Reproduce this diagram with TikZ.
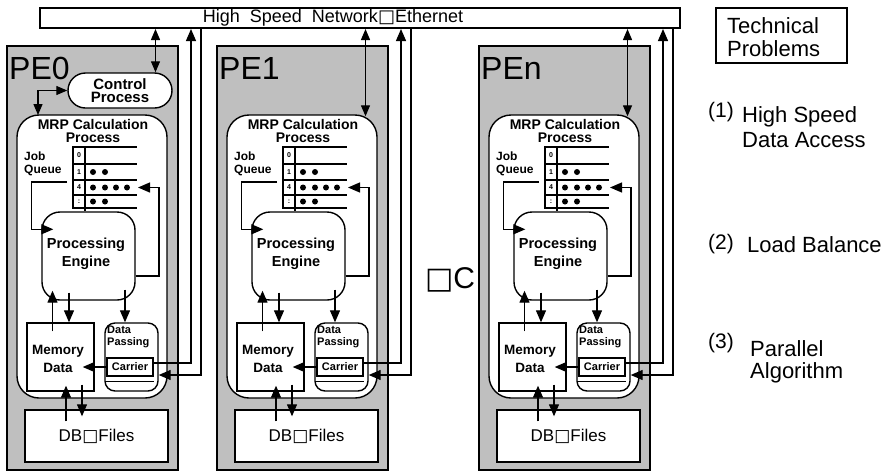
\documentclass[tikz,border=0pt]{standalone}
\usepackage{fontspec}
\setmainfont{Liberation Sans}
\newfontfamily\dejavu{DejaVu Sans}
\usetikzlibrary{arrows.meta,shapes.misc}
\newcommand{\sqg}{{\dejavu □}}
\newcommand{\fsz}[2]{\fontsize{#1}{#2}\selectfont}
\tikzset{
  pebox/.style={draw, line width=1.5pt, fill=black!25, inner sep=0pt},
  wbox/.style={draw, line width=1.4pt, fill=white, inner sep=0pt},
  txt/.style={inner sep=0pt, align=center},
  tip/.style={-{Triangle[length=12pt,width=10pt]}, line width=1.3pt},
  dtip/.style={{Triangle[length=11pt,width=9pt]}-{Triangle[length=11pt,width=9pt]}, line width=1.3pt},
  ln/.style={line width=1.3pt},
}
\begin{document}
\begin{tikzpicture}[x=1pt,y=-1pt]
\useasboundingbox (0,0) rectangle (893,472);
% network bar
\node[wbox, minimum width=640pt, minimum height=20pt] (net) at (360,18) {};
\node[txt, font=\fsz{18}{20}] (nettxt) at (333,18) {High\ \ Speed\ \ Network\sqg Ethernet};
\foreach \i/\dx in {0/0,1/210,n/472}{
\begin{scope}[xshift=\dx pt]
 \node[pebox, minimum width=171pt, minimum height=424pt] (pe\i) at (92.5,258) {};
 \node[txt, anchor=west, font=\fsz{32}{32}] (pel\i) at (9,68) {PE\i};
 \node[wbox, rounded corners=22pt, minimum width=150pt, minimum height=283pt] (mrp\i) at (92,256.5) {};
 \node[txt, font=\bfseries\fsz{14}{13}] (mrpt\i) at (93,131) {MRP Calculation\\Process};
 \node[txt, align=left, anchor=west, font=\bfseries\fsz{12}{12.5}] (jq\i) at (24,164) {Job\\Queue};
 % job queue table
 \draw[ln] (73,147) rectangle (85,208);
 \foreach \yy in {147,164,180,195,208} {\draw[ln] (73,\yy) -- (137,\yy);}
 \node[txt, font=\bfseries\fsz{7}{7}] (q0\i) at (79,155.5) {0};
 \node[txt, font=\bfseries\fsz{7}{7}] (q1\i) at (79,172) {1};
 \node[txt, font=\bfseries\fsz{7}{7}] (q4\i) at (79,187.5) {4};
 \node[txt, font=\bfseries\fsz{7}{7}] (q5\i) at (79,201.5) {:};
 \foreach \xx in {93,105} {\fill (\xx,172) circle (3pt);}
 \foreach \xx in {93,105,116,127} {\fill (\xx,187.5) circle (3pt);}
 \foreach \xx in {93,105} {\fill (\xx,201.5) circle (3pt);}
 % engine
 \node[wbox, rounded corners=18pt, minimum width=93pt, minimum height=88pt] (eng\i) at (88.5,256) {};
 \node[txt, font=\bfseries\fsz{14.5}{18}] (engt\i) at (86,254) {Processing\\Engine};
 % memory
 \node[wbox, minimum width=67pt, minimum height=68pt] (mem\i) at (60.5,357) {};
 \node[txt, font=\bfseries\fsz{13.5}{18}] (memt\i) at (58,359) {Memory\\Data};
 % data passing
 \node[wbox, rounded corners=10pt, minimum width=53pt, minimum height=68pt] (dp\i) at (131.5,357) {};
 \node[txt, align=left, anchor=north west, font=\bfseries\fsz{11}{12}] (dpt\i) at (107,326) {Data\\Passing};
 \node[wbox, minimum width=46pt, minimum height=18pt, font=\bfseries\fsz{11}{11}] (car\i) at (130,367) {Carrier};
 \draw[ln] ([yshift=-5pt]car\i.south west) -- ([yshift=-5pt]car\i.south east);
 % DB
 \node[wbox, minimum width=143pt, minimum height=52pt, font=\fsz{17}{17}] (db\i) at (96.5,436) {DB\sqg Files};
 % coordinates
 \coordinate (na\i) at (155.5,29);
 \coordinate (nu\i) at (191,29);
 \coordinate (nd\i) at (201,29);
 \coordinate (r4\i) at (138,187.5);
 \coordinate (qs\i) at (67,182);
 \coordinate (tb\i) at (85,208);
 \coordinate (qe\i) at ([xshift=12pt,yshift=-18pt]eng\i.north west);
 % connectors
 \draw[tip] (qs\i) -| ([xshift=-22pt]qe\i) -- (qe\i);
 \draw[tip] ([yshift=-20pt]eng\i.east) -| ([xshift=21pt]r4\i) -- (r4\i);
 \draw[ln] (tb\i) -- (tb\i |- eng\i.north);
 \draw[tip] ([xshift=-8pt,yshift=-9pt]mem\i.north) -- ([xshift=-36pt,yshift=10pt]eng\i.south);
 \draw[tip] ([xshift=-19.5pt,yshift=8pt]eng\i.south) -- ([xshift=8.5pt]mem\i.north);
 \draw[tip] ([xshift=36.5pt,yshift=11pt]eng\i.south) -- ([xshift=-6.5pt]dp\i.north);
 \draw[tip] (car\i.west) -- ([xshift=-12pt]mem\i.east |- car\i.west);
 \draw[tip] ([xshift=-30.5pt,yshift=-12pt]db\i.north) -- ([xshift=5.5pt,yshift=6pt]mem\i.south);
 \draw[tip] ([xshift=21.5pt,yshift=7pt]mem\i.south) -- ([xshift=-14.5pt,yshift=-7pt]db\i.north);
 \draw[tip] ([yshift=4pt]car\i.east) -| (nu\i);
 \draw[tip] (nd\i) |- ([yshift=-18pt]dp\i.east);
\end{scope}
}
% control process (PE0)
\node[wbox, rounded rectangle, minimum width=104pt, minimum height=35pt, font=\bfseries\fsz{15}{13.5}, align=center] (ctl) at (120,90.5) {Control\\Process};
\coordinate (cm) at (38,115);
\draw[dtip] (ctl.west) -| (cm);
\draw[dtip] (na0) -- (na0 |- ctl.north);
\draw[dtip] (na1) -- ([yshift=-2pt]na1 |- mrp1.north);
\draw[dtip] (nan) -- ([yshift=-2pt]nan |- mrpn.north);
% middle ellipsis mark
\node[txt, font=\fsz{30}{30}] (etc) at (450,280) {\sqg C};
% right side
\node[draw, line width=1.3pt, minimum width=131pt, minimum height=55pt] (tpb) at (781.5,35.5) {};
\node[txt, align=left, anchor=west, font=\fsz{22}{23}] (tpt) at (727,37) {Technical\\Problems};
\node[txt, anchor=west, font=\fsz{21}{25}] (p1) at (708,112) {(1)};
\node[txt, align=left, anchor=west, font=\fsz{22}{25}] (p1t) at (742,127) {High Speed\\Data Access};
\node[txt, anchor=west, font=\fsz{21}{25}] (p2) at (708,244) {(2)};
\node[txt, anchor=west, font=\fsz{22}{25}] (p2t) at (747,245) {Load\ Balance};
\node[txt, anchor=west, font=\fsz{21}{25}] (p3) at (708,343) {(3)};
\node[txt, align=left, anchor=west, font=\fsz{22}{22}] (p3t) at (750,362) {Parallel\\Algorithm};
\end{tikzpicture}
\end{document}
